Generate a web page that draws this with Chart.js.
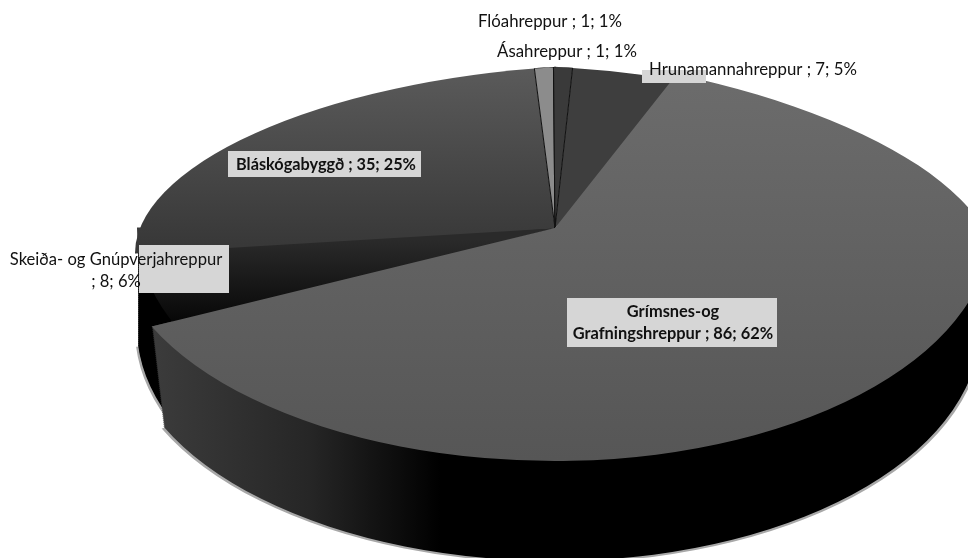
<!DOCTYPE html>
<html>
<head>
<meta charset="utf-8">
<title>Pie</title>
<script src="https://cdn.jsdelivr.net/npm/chart.js@4/dist/chart.umd.js"></script>
<style>
  html, body { margin: 0; padding: 0; background: #fff; overflow: hidden; }
  canvas { display: block; }
</style>
</head>
<body>
<canvas id="pieChart" width="968" height="558"></canvas>
<script>
const categories = ["Hrunamannahreppur", "Grímsnes-og Grafningshreppur", "Skeiða- og Gnúpverjahreppur", "Bláskógabyggð", "Flóahreppur", "Ásahreppur"];
const counts = [7, 86, 8, 35, 1, 1];
const percents = [5, 62, 6, 25, 1, 1];

// fake 3D look: apex of the pie on the page and how each quarter is stretched
const APEX = { x: 555, y: 228 };
const DEPTH = 100;
const baseQuarters = {
  ul: { rx: 420, ry: 161, k: 0.06, s: 0 },
  ur: { rx: 420, ry: 161, k: 0.05, s: 0 },
  ll: { rx: 418, ry: 233, k: 0, s: 0 },
  lr: { rx: 436, ry: 233, k: 0, s: 0 },
};
const grimsnesQuarters = {
  ...baseQuarters,
  ur: { rx: 440, ry: 175, k: 0.065, s: 36 },
  ll: { rx: 445, ry: 233, k: 0, s: 0 },
};

function sliceLabel(i) {
  return categories[i] + " ; " + counts[i] + "; " + percents[i] + "%";
}

// line breaks and boxes of the labels as they sit in the picture
const labelBoxes = [
  { lines: [sliceLabel(0)], cx: 753, ys: [70], box: [642, 70, 64, 13], font: "16.8px" },
  { lines: ["Grímsnes-og", "Grafningshreppur ; 86; 62%"], cx: 673, ys: [312, 334], box: [567, 298, 210, 49], font: "bold 16.4px" },
  { lines: [categories[2], "; 8; 6%"], cx: 116, ys: [260, 282], box: [139, 245, 90, 48], font: "16.6px" },
  { lines: [sliceLabel(3)], cx: 326, ys: [165], box: [228, 151, 193, 26], font: "bold 16.3px" },
  { lines: [sliceLabel(4)], cx: 550, ys: [22], box: null, font: "16.8px" },
  { lines: [sliceLabel(5)], cx: 567, ys: [52], box: null, font: "16.8px" },
];

// draws one arc element through a stretched quarter, clipped in the arc's own space
function drawQuarter(ctx, arc, name, q, dy, fill, border) {
  const R = arc.outerRadius;
  const left = name[1] === "l";
  const up = name[0] === "u";
  const b = (left ? -q.k : q.k) * q.rx / R;
  ctx.save();
  ctx.transform(q.rx / R, b, q.s / R, q.ry / R, APEX.x, APEX.y + dy);
  ctx.translate(-arc.x, -arc.y);
  ctx.beginPath();
  ctx.rect(left ? arc.x - R - 2 : arc.x - 0.5, up ? arc.y - R - 2 : arc.y - 0.5, R + 2.5, R + 2.5);
  ctx.clip();
  const saved = arc.options;
  arc.options = { ...saved, backgroundColor: fill, borderWidth: border || 0, borderColor: "#111", borderAlign: "center" };
  arc.draw(ctx);
  arc.options = saved;
  ctx.restore();
}

function drawTop(ctx, arc, quarters, fillFor, border) {
  Object.keys(quarters).forEach((name) => {
    const q = quarters[name];
    drawQuarter(ctx, arc, name, q, 0, fillFor ? fillFor(name, q) : arc.options.backgroundColor, border);
  });
}

// gradient running down the page, worked back into the arc's sheared space
function verticalFill(ctx, arc, y0, y1, stops) {
  return (name, q) => {
    const R = arc.outerRadius;
    const b = (name[1] === "l" ? -q.k : q.k) * q.rx;
    const v0 = (y0 - APEX.y) / q.ry;
    const t = (y1 - y0) / (q.ry * q.ry + b * b);
    const g = ctx.createLinearGradient(arc.x, arc.y + v0 * R, arc.x + t * b * R, arc.y + (v0 + t * q.ry) * R);
    stops.forEach((c, i) => g.addColorStop(i / (stops.length - 1), c));
    return g;
  };
}

const pie3d = {
  id: "pie3d",
  beforeDatasetsDraw(chart) {
    const ctx = chart.ctx;
    const arcs = chart.getDatasetMeta(0).data;
    const [hruna, grimsnes, skeida, blaskoga, floa, asa] = arcs;

    // soft grey rim of the scan under the wall
    ["ll", "lr"].forEach((n) => {
      const q = { rx: n === "ll" ? 434 : 427, ry: 233, k: 0, s: 0 };
      drawQuarter(ctx, grimsnes, n, q, DEPTH + 2, "#a8a8a8");
      if (n === "ll") drawQuarter(ctx, skeida, n, { ...q, rx: 420 }, DEPTH + 2, "#a8a8a8");
    });

    // side wall, stacked from the bottom up
    for (let d = DEPTH; d >= 0; d -= 2) {
      drawQuarter(ctx, skeida, "ll", baseQuarters.ll, d, "#000");
    }
    for (let d = DEPTH; d >= 0; d -= 2) {
      const t = d / DEPTH;
      ["ll", "lr"].forEach((n) => {
        const to = n === "ll" ? 432 : 425;
        const from = grimsnesQuarters[n].rx;
        const rx = from + (to - from) * t;
        const R = grimsnes.outerRadius;
        const g = ctx.createLinearGradient(grimsnes.x + (150 - APEX.x) / rx * R, 0, grimsnes.x + (440 - APEX.x) / rx * R, 0);
        g.addColorStop(0, "#3c3c3c");
        g.addColorStop(0.55, "#262626");
        g.addColorStop(1, "#000");
        drawQuarter(ctx, grimsnes, n, { rx, ry: 233, k: 0, s: 0 }, d, g);
      });
    }

    // top surface
    drawTop(ctx, hruna, baseQuarters);
    drawTop(ctx, skeida, baseQuarters, verticalFill(ctx, skeida, 240, 325, ["#2a2a2a", "#060606"]));
    drawTop(ctx, blaskoga, baseQuarters, verticalFill(ctx, blaskoga, 70, 245, ["#5a5a5a", "#383838"]));
    drawTop(ctx, floa, baseQuarters, null, 0.7);
    drawTop(ctx, asa, baseQuarters, null, 0.7);
    drawTop(ctx, grimsnes, grimsnesQuarters, verticalFill(ctx, grimsnes, 70, 460, ["#6c6c6c", "#565656"]));
    return false;
  },
  afterDraw(chart) {
    const ctx = chart.ctx;
    ctx.save();
    ctx.textAlign = "center";
    ctx.textBaseline = "middle";
    labelBoxes.forEach((l) => {
      if (l.box) {
        ctx.fillStyle = "#d6d6d6";
        ctx.fillRect(l.box[0], l.box[1], l.box[2], l.box[3]);
      }
      ctx.fillStyle = "#111";
      ctx.font = l.font + " Lato, 'Open Sans', sans-serif";
      l.lines.forEach((txt, i) => ctx.fillText(txt, l.cx, l.ys[i]));
    });
    ctx.restore();
  },
};

new Chart(document.getElementById("pieChart"), {
  type: "pie",
  data: {
    labels: categories,
    datasets: [{
      data: counts,
      backgroundColor: ["#3e3e3e", "#666666", "#222222", "#4c4c4c", "#8c8c8c", "#3a3a3a"],
      borderWidth: 0,
    }],
  },
  options: {
    responsive: false,
    animation: false,
    rotation: 2.4,
    plugins: { legend: { display: false }, tooltip: { enabled: false } },
  },
  plugins: [pie3d],
});
</script>
</body>
</html>
